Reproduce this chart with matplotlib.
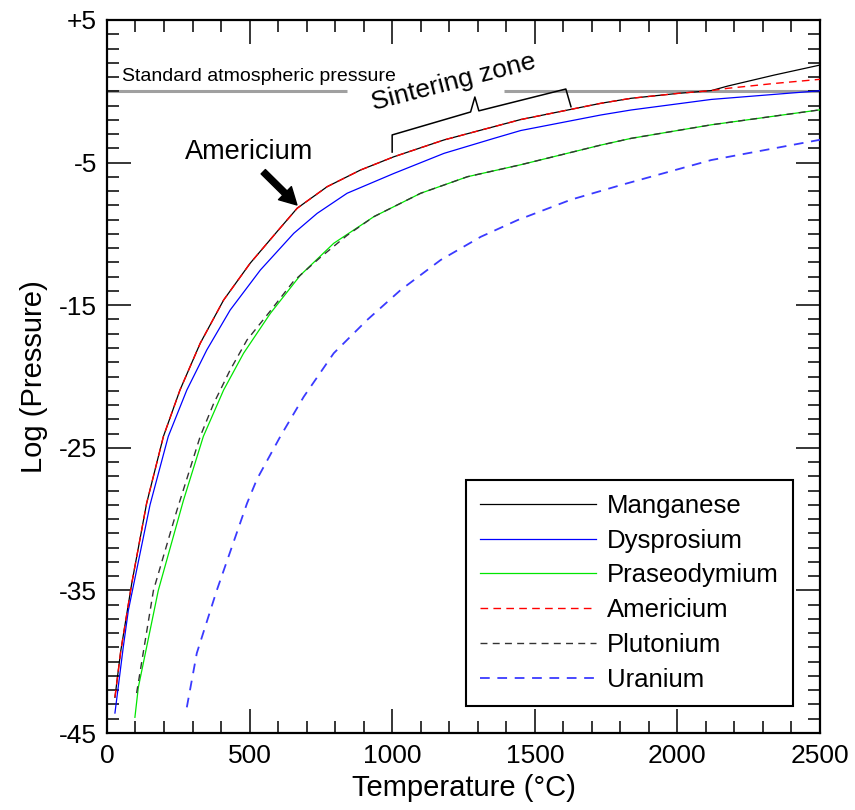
import matplotlib
matplotlib.use("Agg")
import matplotlib.pyplot as plt
from matplotlib.ticker import MultipleLocator

plt.rcParams['font.family'] = ['Liberation Sans', 'DejaVu Sans']
plt.rcParams['lines.scale_dashes'] = False

# ---- data ----
mn_T = [28, 48, 87, 139, 198, 256, 327, 409, 502, 596, 667, 772, 889, 1006, 1182, 1357, 1451,
        1732, 1838, 2000, 2119, 2177, 2340, 2500]
mn_P = [-42.5, -39.3, -34.5, -28.9, -24.2, -20.95, -17.67, -14.64, -12.06, -9.85, -8.2, -6.69, -5.52,
        -4.59, -3.41, -2.48, -1.98, -0.84, -0.49, -0.15, 0.05, 0.37, 1.14, 1.84]

dy_T = [28, 57, 75, 151, 215, 280, 350, 432, 538, 655, 737, 842, 1006, 1182, 1357, 1451,
        1732, 1838, 2119, 2500]
dy_P = [-43.6, -39.0, -36.4, -29.0, -24.2, -20.95, -18.14, -15.34, -12.53, -9.96, -8.56, -7.15,
        -5.76, -4.35, -3.3, -2.75, -1.66, -1.31, -0.57, 0.04]

pr_T = [98, 110, 180, 268, 338, 409, 479, 573, 678, 795, 936, 1100, 1264, 1451, 1732, 1838,
        2119, 2500]
pr_P = [-43.9, -41.8, -35.0, -28.7, -24.2, -20.95, -18.37, -15.57, -12.9, -10.66, -8.79, -7.15,
        -5.99, -5.15, -3.77, -3.3, -2.35, -1.3]

am_T = [28, 48, 87, 139, 198, 256, 327, 409, 502, 596, 667, 772, 889, 1006, 1182, 1357, 1451,
        1732, 1838, 2000, 2119, 2177, 2340, 2500]
am_P = [-42.5, -39.3, -34.5, -28.9, -24.2, -20.95, -17.67, -14.64, -12.06, -9.85, -8.2, -6.69, -5.52,
        -4.59, -3.41, -2.48, -1.98, -0.84, -0.49, -0.15, 0.05, 0.21, 0.55, 0.84]

pu_T = [104, 163, 245, 327, 374, 432, 491, 573, 655, 748, 842, 936, 1100, 1264, 1451, 1732,
        1838, 2119, 2500]
pu_P = [-42.2, -35.0, -29.4, -24.2, -21.9, -19.54, -17.44, -15.4, -13.3, -11.65, -10.1, -8.79,
        -7.15, -5.99, -5.15, -3.77, -3.3, -2.35, -1.3]

u_T = [280, 315, 385, 491, 526, 608, 690, 795, 912, 1030, 1170, 1311, 1440, 1627, 1803, 2119, 2500]
u_P = [-43.2, -39.4, -35.0, -28.9, -27.2, -24.2, -21.42, -18.37, -16.04, -13.93, -11.83, -10.2,
       -9.03, -7.6, -6.57, -4.82, -3.4]

x_ticks = [0, 500, 1000, 1500, 2000, 2500]
y_ticks = [-45, -35, -25, -15, -5, 5]
y_tick_labels = ['-45', '-35', '-25', '-15', '-5', '+5']

atm_level = 0
atm_segments = [(0, 843), (1391, 2500)]
bracket_T = [1000, 1000, 1275, 1290, 1304, 1609, 1627]
bracket_P = [-4.26, -3.06, -1.45, -0.40, -1.37, 0.16, -1.08]

# ---- figure ----
fig = plt.figure(figsize=(8.55, 8.10), dpi=100)
ax = fig.add_axes([0.1251, 0.09506, 0.83392, 0.88025])

for a, b in atm_segments:
    ax.plot([a, b], [atm_level, atm_level], color='#a0a0a0', lw=2.2, zorder=1,
            solid_capstyle='butt')

ax.plot(mn_T, mn_P, color='black', lw=0.9, label='Manganese', zorder=3)
ax.plot(dy_T, dy_P, color='#0000ff', lw=0.9, label='Dysprosium', zorder=3)
ax.plot(pr_T, pr_P, color='#00e600', lw=0.9, label='Praseodymium', zorder=3)
ax.plot(am_T, am_P, color='#ff0000', lw=1.0, dashes=(5.5, 3.8), label='Americium', zorder=4)
ax.plot(pu_T, pu_P, color='#333333', lw=1.0, dashes=(5.0, 3.8), label='Plutonium', zorder=4)
ax.plot(u_T, u_P, color='#3a3aff', lw=1.3, dashes=(7.0, 5.5), label='Uranium', zorder=4)

# bracket for sintering zone
ax.plot(bracket_T, bracket_P, color='black', lw=1.1, zorder=5)

ax.text(53, 0.72, 'Standard atmospheric pressure', fontsize=14, ha='left', va='baseline')
ax.text(935, -1.31, 'Sintering zone', fontsize=19, rotation=14.5,
        rotation_mode='anchor', ha='left', va='baseline')
ax.text(500, -4.75, 'Americium', fontsize=19.5, ha='center', va='baseline')
ax.annotate('', xy=(666, -7.97), xytext=(548, -5.64),
            arrowprops=dict(arrowstyle='simple,head_length=0.55,head_width=0.6,tail_width=0.2',
                            color='black', shrinkA=0, shrinkB=0, mutation_scale=22))

ax.set_xlim(0, 2500)
ax.set_ylim(-45, 5)
ax.set_xticks(x_ticks)
ax.set_xticklabels([str(v) for v in x_ticks])
ax.set_yticks(y_ticks)
ax.set_yticklabels(y_tick_labels)
ax.xaxis.set_minor_locator(MultipleLocator(100))
ax.yaxis.set_minor_locator(MultipleLocator(1))
ax.tick_params(which='both', direction='in', top=True, right=True, width=1.1, color='black')
ax.tick_params(which='major', length=17, labelsize=19)
ax.tick_params(which='minor', length=8.5)
ax.tick_params(axis='x', which='major', pad=8)
ax.tick_params(axis='y', which='major', pad=7)
for s in ax.spines.values():
    s.set_linewidth(1.6)

ax.set_xlabel('Temperature (°C)', fontsize=21, labelpad=4)
ax.set_ylabel('Log (Pressure)', fontsize=21, labelpad=8)

leg = ax.legend(loc='lower left', bbox_to_anchor=(0.5035, 0.0379), borderaxespad=0,
                fontsize=18.5, frameon=True, fancybox=False, edgecolor='black',
                framealpha=1, handlelength=4.5, handletextpad=0.45,
                labelspacing=0.42, borderpad=0.55)
leg.get_frame().set_linewidth(1.5)

fig.savefig('out.png', dpi=100)
